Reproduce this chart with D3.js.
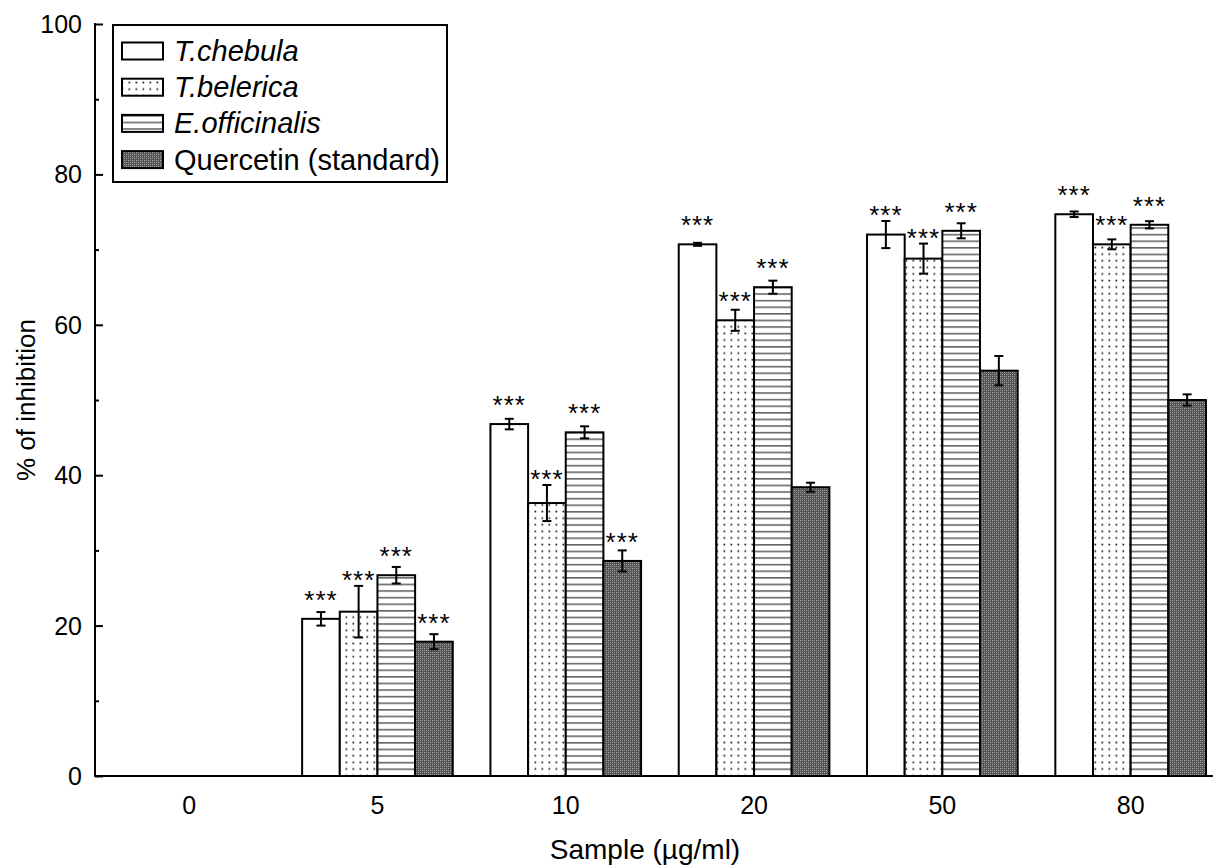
<!DOCTYPE html>
<html>
<head>
<meta charset="utf-8">
<script src="https://cdn.jsdelivr.net/npm/d3@7"></script>
<style>
  html, body { margin: 0; padding: 0; background: #fff; }
  svg { display: block; font-family: "Liberation Sans", Arial, sans-serif; }
</style>
</head>
<body>
<svg id="chart" width="1213" height="865"></svg>
<script>
// data
const categories = ["0", "5", "10", "20", "50", "80"];
const seriesNames = ["T.chebula", "T.belerica", "E.officinalis", "Quercetin (standard)"];
const chebula = [0, 20.9, 46.8, 70.7, 72.0, 74.7];
const chebulaErr = [0, 0.9, 0.7, 0.2, 1.8, 0.37];
const belerica = [0, 21.85, 36.3, 60.6, 68.8, 70.7];
const belericaErr = [0, 3.43, 2.4, 1.4, 2.0, 0.66];
const officinalis = [0, 26.7, 45.7, 65.0, 72.5, 73.3];
const officinalisErr = [0, 1.1, 0.8, 0.87, 1.0, 0.48];
const quercetin = [0, 17.86, 28.6, 38.4, 53.9, 50.0];
const quercetinErr = [0, 1.0, 1.4, 0.6, 1.95, 0.75];
const chebulaSig = ["", "***", "***", "***", "***", "***"];
const belericaSig = ["", "***", "***", "***", "***", "***"];
const officinalisSig = ["", "***", "***", "***", "***", "***"];
const quercetinSig = ["", "***", "***", "", "", ""];
const yTicks = [0, 20, 40, 60, 80, 100];
const yMinorTicks = [10, 30, 50, 70, 90];

const values = [chebula, belerica, officinalis, quercetin];
const errors = [chebulaErr, belericaErr, officinalisErr, quercetinErr];
const sigs = [chebulaSig, belericaSig, officinalisSig, quercetinSig];
const fills = ["#fff", "url(#dots)", "url(#hlines)", "url(#stipple)"];

const svg = d3.select("#chart");

// patterns
const defs = svg.append("defs");
let p = defs.append("pattern").attr("id", "dots").attr("patternUnits", "userSpaceOnUse")
    .attr("width", 7).attr("height", 6.6);
p.append("rect").attr("width", 7).attr("height", 6.6).attr("fill", "#fff");
p.append("rect").attr("x", 2.5).attr("y", 2.5).attr("width", 1.7).attr("height", 1.7).attr("fill", "#222");

p = defs.append("pattern").attr("id", "hlines").attr("patternUnits", "userSpaceOnUse")
    .attr("width", 10).attr("height", 6.6);
p.append("rect").attr("width", 10).attr("height", 6.6).attr("fill", "#fff");
p.append("rect").attr("y", 3).attr("width", 10).attr("height", 1.3).attr("fill", "#444");

p = defs.append("pattern").attr("id", "stipple").attr("patternUnits", "userSpaceOnUse")
    .attr("width", 4).attr("height", 4);
p.append("rect").attr("width", 4).attr("height", 4).attr("fill", "#555");
p.append("rect").attr("x", 0).attr("y", 0).attr("width", 1).attr("height", 1).attr("fill", "#b0b0b0");
p.append("rect").attr("x", 2).attr("y", 2).attr("width", 1).attr("height", 1).attr("fill", "#b0b0b0");
p.append("rect").attr("x", 2).attr("y", 0).attr("width", 1).attr("height", 1).attr("fill", "#888");
p.append("rect").attr("x", 0).attr("y", 2).attr("width", 1).attr("height", 1).attr("fill", "#888");

const mLeft = 95, mBottom = 776, mTop = 24;
const band = 188.3;

const x = d3.scaleBand().domain(categories).range([mLeft, mLeft + band * categories.length]);
const xs = d3.scaleBand().domain(d3.range(seriesNames.length))
    .range([x.bandwidth() * 0.1, x.bandwidth() * 0.9]);
const y = d3.scaleLinear().domain([0, 100]).range([mBottom, mTop]);

// bars
values.forEach((vals, s) => {
    const g = svg.append("g");
    categories.forEach((c, i) => {
        const v = vals[i];
        if (!v) return;
        const bx = x(c) + xs(s);
        g.append("rect")
            .attr("x", bx).attr("y", y(v))
            .attr("width", xs.bandwidth()).attr("height", y(0) - y(v))
            .attr("fill", fills[s]).attr("stroke", "#000").attr("stroke-width", 2);
        const e = errors[s][i];
        const cx = bx + xs.bandwidth() / 2;
        g.append("line").attr("x1", cx).attr("x2", cx)
            .attr("y1", y(v + e)).attr("y2", y(v - e))
            .attr("stroke", "#000").attr("stroke-width", 2);
        [v + e, v - e].forEach(t => {
            g.append("line").attr("x1", cx - 4.5).attr("x2", cx + 4.5)
                .attr("y1", y(t)).attr("y2", y(t))
                .attr("stroke", "#000").attr("stroke-width", 2);
        });
        if (sigs[s][i]) {
            const cy = Math.min(y(v) - 24, y(v + e) - 11);
            g.append("text").attr("x", cx).attr("y", cy + 14)
                .attr("text-anchor", "middle").attr("font-size", 26)
                .attr("letter-spacing", 1)
                .text(sigs[s][i]);
        }
    });
});

// y axis, ticks pointing inward
const yAxis = svg.append("g").attr("transform", `translate(${mLeft},0)`)
    .call(d3.axisRight(y).tickValues(yTicks).tickSize(8).tickFormat(""));
yAxis.select(".domain").remove();
yAxis.selectAll("line").attr("stroke", "#000").attr("stroke-width", 2);
const yMinor = svg.append("g").attr("transform", `translate(${mLeft},0)`)
    .call(d3.axisRight(y).tickValues(yMinorTicks).tickSize(4).tickFormat(""));
yMinor.select(".domain").remove();
yMinor.selectAll("line").attr("stroke", "#000").attr("stroke-width", 2);
svg.append("line").attr("x1", mLeft).attr("x2", mLeft).attr("y1", mTop - 1).attr("y2", mBottom + 1)
    .attr("stroke", "#000").attr("stroke-width", 2);
svg.selectAll(".ylab").data(yTicks).enter().append("text")
    .attr("x", mLeft - 13).attr("y", d => y(d) + 9)
    .attr("text-anchor", "end").attr("font-size", 25)
    .text(d => d);

// x axis
svg.append("line").attr("x1", mLeft - 1).attr("x2", 1213).attr("y1", mBottom).attr("y2", mBottom)
    .attr("stroke", "#000").attr("stroke-width", 2);
svg.selectAll(".xlab").data(categories).enter().append("text")
    .attr("x", d => x(d) + x.bandwidth() / 2).attr("y", 814)
    .attr("text-anchor", "middle").attr("font-size", 25)
    .text(d => d);

svg.append("text").attr("x", 645).attr("y", 859).attr("text-anchor", "middle")
    .attr("font-size", 28).text("Sample (µg/ml)");
svg.append("text").attr("transform", "translate(35,400) rotate(-90)")
    .attr("text-anchor", "middle").attr("font-size", 26).text("% of inhibition");

// legend
const lg = svg.append("g");
lg.append("rect").attr("x", 113).attr("y", 25).attr("width", 334).attr("height", 157)
    .attr("fill", "#fff").attr("stroke", "#000").attr("stroke-width", 2);
seriesNames.forEach((n, i) => {
    const cy = 51 + i * 36.2;
    lg.append("rect").attr("x", 122).attr("y", cy - 8.5).attr("width", 41).attr("height", 17)
        .attr("fill", fills[i]).attr("stroke", "#000").attr("stroke-width", 2);
    lg.append("text").attr("x", 174).attr("y", cy + 10).attr("font-size", 29)
        .attr("font-style", i < 3 ? "italic" : "normal").text(n);
});
</script>
</body>
</html>
